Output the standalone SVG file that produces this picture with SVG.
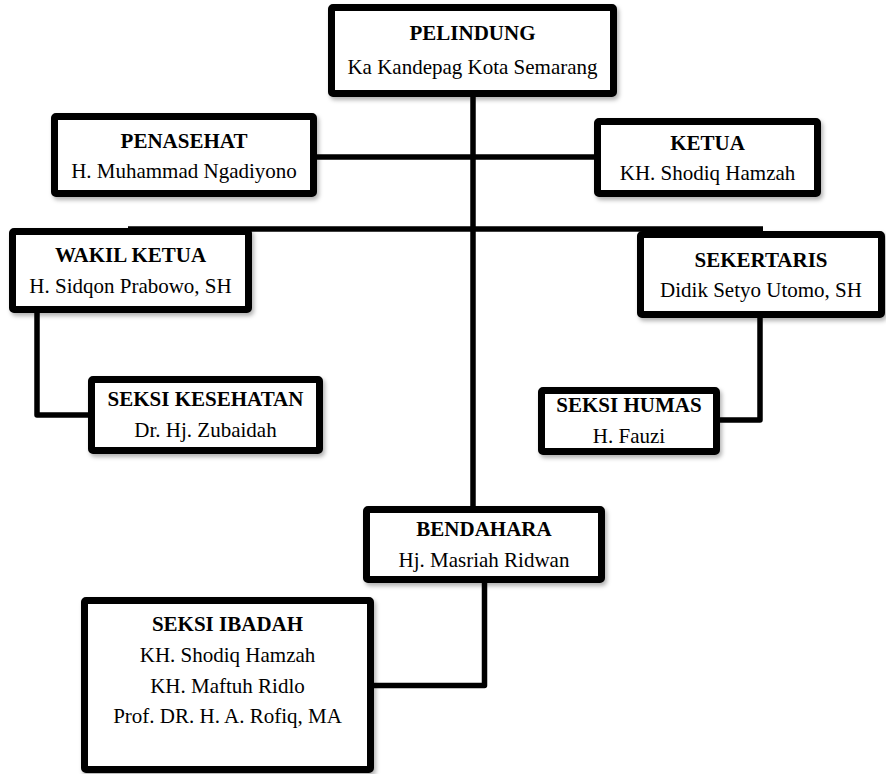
<svg xmlns="http://www.w3.org/2000/svg" width="886" height="774" viewBox="0 0 886 774">
  <style>
    .box { fill: #ffffff; stroke: #000000; stroke-width: 7; filter: url(#shadow); }
    .conn { fill: none; stroke: #000000; stroke-width: 5.5; stroke-linejoin: round; }
    text { font-family: "Liberation Serif", "Times New Roman", serif; font-size: 21px; fill: #000000; text-anchor: middle; }
    .title { font-weight: bold; }
  </style>
  <defs>
    <filter id="shadow" x="-10%" y="-10%" width="125%" height="130%">
      <feDropShadow dx="2" dy="3" stdDeviation="2" flood-color="#000000" flood-opacity="0.3"/>
    </filter>
  </defs>
  <rect x="0" y="0" width="886" height="774" fill="#ffffff"/>

  <g id="connectors">
    <path class="conn" d="M473 96 V507"/>
    <path class="conn" d="M316 157 H595"/>
    <path class="conn" d="M128 229 H763"/>
    <path class="conn" d="M37 312 V415 H89"/>
    <path class="conn" d="M760 317 V420 H719"/>
    <path class="conn" d="M484.5 582 V685.5 H373"/>
  </g>

  <g id="pelindung">
    <rect class="box" x="331.5" y="7.5" width="282" height="86" rx="1.5"/>
    <text class="title" x="472.5" y="40">PELINDUNG</text>
    <text x="472.5" y="74">Ka Kandepag Kota Semarang</text>
  </g>

  <g id="penasehat">
    <rect class="box" x="54.5" y="116.5" width="259" height="77" rx="1.5"/>
    <text class="title" x="184" y="148">PENASEHAT</text>
    <text x="184" y="178">H. Muhammad Ngadiyono</text>
  </g>

  <g id="ketua">
    <rect class="box" x="597.5" y="121.5" width="220" height="72" rx="1.5"/>
    <text class="title" x="707.5" y="150">KETUA</text>
    <text x="707.5" y="180">KH. Shodiq Hamzah</text>
  </g>

  <g id="wakil-ketua">
    <rect class="box" x="12.5" y="231.5" width="236" height="78" rx="1.5"/>
    <text class="title" x="130.5" y="262">WAKIL KETUA</text>
    <text x="130.5" y="293">H. Sidqon Prabowo, SH</text>
  </g>

  <g id="sekertaris">
    <rect class="box" x="640.5" y="234.5" width="241" height="80" rx="1.5"/>
    <text class="title" x="761" y="266.5">SEKERTARIS</text>
    <text x="761" y="296.5">Didik Setyo Utomo, SH</text>
  </g>

  <g id="seksi-kesehatan">
    <rect class="box" x="91.5" y="379.5" width="228" height="71" rx="1.5"/>
    <text class="title" x="205.5" y="406">SEKSI KESEHATAN</text>
    <text x="205.5" y="436.5">Dr. Hj. Zubaidah</text>
  </g>

  <g id="seksi-humas">
    <rect class="box" x="541.5" y="390.5" width="175" height="61" rx="1.5"/>
    <text class="title" x="629" y="411.5">SEKSI HUMAS</text>
    <text x="629" y="443">H. Fauzi</text>
  </g>

  <g id="bendahara">
    <rect class="box" x="366.5" y="509.5" width="235" height="70" rx="1.5"/>
    <text class="title" x="484" y="536">BENDAHARA</text>
    <text x="484" y="567">Hj. Masriah Ridwan</text>
  </g>

  <g id="seksi-ibadah">
    <rect class="box" x="84.5" y="600.5" width="286" height="169" rx="1.5"/>
    <text class="title" x="227.5" y="631">SEKSI IBADAH</text>
    <text x="227.5" y="662">KH. Shodiq Hamzah</text>
    <text x="227.5" y="692.5">KH. Maftuh Ridlo</text>
    <text x="227.5" y="723">Prof. DR. H. A. Rofiq, MA</text>
  </g>
</svg>
